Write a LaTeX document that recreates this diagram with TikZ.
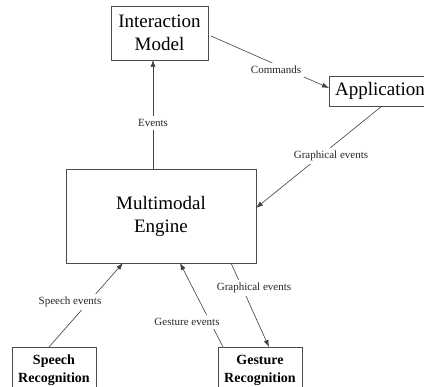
\documentclass[tikz,border=0pt]{standalone}
\usepackage{fontspec}
\setmainfont{Liberation Serif}
\usetikzlibrary{arrows.meta}
\begin{document}
\begin{tikzpicture}[x=1pt,y=-1pt,
  box/.style={draw=black!70, line width=0.9pt, inner sep=0pt, outer sep=0pt, align=center},
  bigtext/.style={font=\fontsize{19}{23}\selectfont},
  smalltext/.style={font=\bfseries\fontsize{14}{18}\selectfont},
  lbl/.style={fill=white, inner sep=3pt, font=\fontsize{11}{13}\selectfont, text=black!85},
  arr/.style={draw=black!75, line width=0.6pt, -{Latex[length=7pt,width=5pt]}}]
\useasboundingbox (0,0) rectangle (424,387);
\clip (0,0) rectangle (424,387);
\fill[white] (0,0) rectangle (424,387);
% boxes
\node[box,bigtext,minimum width=97pt,minimum height=54pt] (im) at (159.5,33) {Interaction\\Model};
\node[box,bigtext,minimum width=102pt,minimum height=30pt] (app) at (380,91) {Application};
\node[box,bigtext,minimum width=190pt,minimum height=94pt] (engine) at (161,216) {Multimodal\\Engine};
\node[box,smalltext,minimum width=84pt,minimum height=46pt] (speech) at (54,370) {Speech\\Recognition};
\node[box,smalltext,minimum width=84pt,minimum height=46pt] (gesture) at (260,370) {Gesture\\Recognition};
% connectors
\draw[arr] ([xshift=-8pt]engine.north) -- ([xshift=-6.5pt]im.south);
\draw[arr] ([xshift=3pt,yshift=-3pt]im.east) -- ([yshift=3pt]app.west);
\draw[arr] ([xshift=2pt]app.south) -- ([yshift=8pt]engine.east);
\draw[arr] ([xshift=-5pt]speech.north) -- ([xshift=-38pt]engine.south);
\draw[arr] ([xshift=-37pt]gesture.north) -- ([xshift=19pt]engine.south);
\draw[arr] ([xshift=70pt]engine.south) -- ([xshift=9pt]gesture.north);
% labels
\node[lbl] (l1) at (153,123) {Events};
\node[lbl] (l2) at (276,70) {Commands};
\node[lbl] (l3) at (331,156) {Graphical events};
\node[lbl] (l4) at (70,302) {Speech events};
\node[lbl] (l5) at (187,322) {Gesture events};
\node[lbl] (l6) at (254,288) {Graphical events};
\end{tikzpicture}
\end{document}
